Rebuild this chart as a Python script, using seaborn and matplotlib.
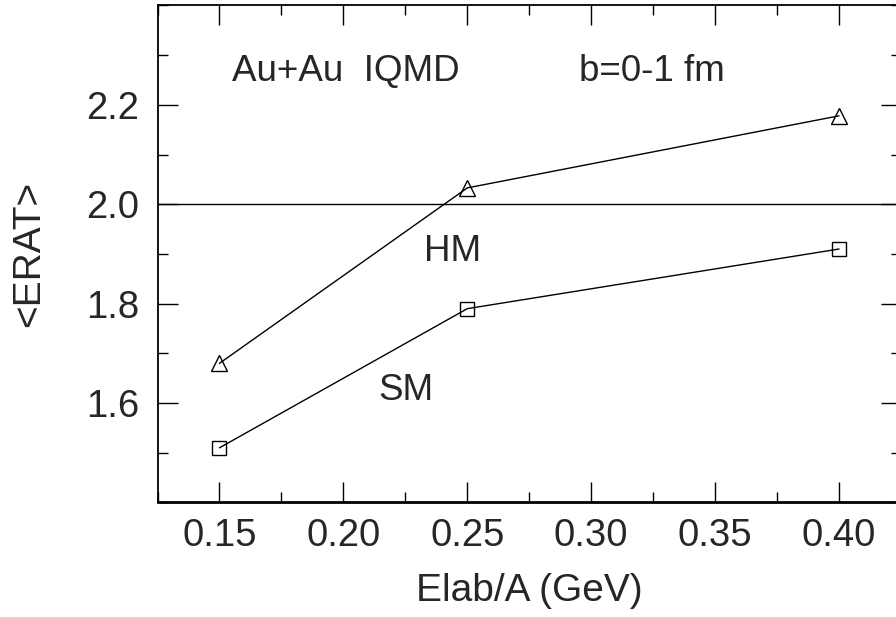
import pandas as pd
import matplotlib
matplotlib.use("Agg")
import matplotlib.pyplot as plt
import seaborn as sns
from matplotlib.ticker import MultipleLocator

# data
energy = [0.15, 0.25, 0.40]
erat_hm = [1.68, 2.033, 2.178]
erat_sm = [1.51, 1.79, 1.91]

df = pd.DataFrame({
    "Elab/A (GeV)": energy * 2,
    "<ERAT>": erat_hm + erat_sm,
    "model": ["HM"] * 3 + ["SM"] * 3,
})

sns.set_style("ticks")
plt.rcParams['font.family'] = ['Liberation Sans', 'DejaVu Sans']

fig = plt.figure(figsize=(8.96, 6.17), dpi=100)
ax = fig.add_axes([0.1758, 0.1856, 0.8298, 0.8055])

sns.lineplot(data=df[df.model == "HM"], x="Elab/A (GeV)", y="<ERAT>", ax=ax,
             color="black", lw=1, marker="^", markersize=11,
             markerfacecolor="none", markeredgecolor="black", markeredgewidth=1)
sns.lineplot(data=df[df.model == "SM"], x="Elab/A (GeV)", y="<ERAT>", ax=ax,
             color="black", lw=1, marker="s", markersize=10,
             markerfacecolor="none", markeredgecolor="black", markeredgewidth=1)

ax.axhline(2.0, color="black", lw=1)

ax.set_xlim(0.125, 0.425)
ax.set_ylim(1.4, 2.4)
ax.xaxis.set_minor_locator(MultipleLocator(0.025))
ax.yaxis.set_minor_locator(MultipleLocator(0.1))
ax.set_xticks([0.15, 0.20, 0.25, 0.30, 0.35, 0.40])
ax.set_xticklabels(["0.15", "0.20", "0.25", "0.30", "0.35", "0.40"])
ax.set_yticks([1.6, 1.8, 2.0, 2.2])
ax.set_yticklabels(["1.6", "1.8", "2.0", "2.2"])

ax.tick_params(which="both", direction="in", top=True, right=True, labelsize=27.5, color="black")
ax.tick_params(which="major", length=14.5, width=1, pad=11)
ax.tick_params(which="minor", length=7, width=1)
ax.tick_params(axis="y", which="major", pad=13)
for s in ax.spines.values():
    s.set_linewidth(1.3)
    s.set_color("black")
ax.spines["bottom"].set_linewidth(2)

ax.set_xlabel("Elab/A (GeV)", fontsize=28, labelpad=14)
ax.set_ylabel("<ERAT>", fontsize=28, labelpad=28)

ax.text(0.155, 2.248, "Au+Au  IQMD", fontsize=26.5, va="baseline")
ax.text(0.295, 2.248, "b=0-1 fm", fontsize=26.5, va="baseline")
ax.text(0.2327, 1.886, "HM", fontsize=26.5, va="baseline")
ax.text(0.2142, 1.606, "SM", fontsize=26.5, va="baseline")

fig.savefig("out.png", dpi=100)
